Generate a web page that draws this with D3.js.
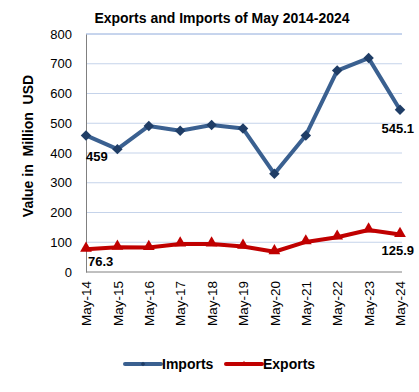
<!DOCTYPE html>
<html><head><meta charset="utf-8">
<script src="https://cdn.jsdelivr.net/npm/d3@7"></script>
<style>body{margin:0;background:#fff;font-family:"Liberation Sans",Arial,sans-serif;}</style>
</head><body>
<script>
const categories = ["May-14","May-15","May-16","May-17","May-18","May-19","May-20","May-21","May-22","May-23","May-24"];
const imports = [459, 413, 491, 475, 494, 482, 330, 459, 677, 719, 545.1];
const exportsV = [76.3, 83, 82, 94, 94, 86, 68, 101, 117, 141, 125.9];
const yTicks = [0,100,200,300,400,500,600,700,800];

(function(){
const W=419,H=392;
const svg=d3.select("body").append("svg").attr("width",W).attr("height",H);
const mLeft=86,mRight=402,mTop=34,mBottom=272;
const x=d3.scalePoint().domain(categories).range([mLeft,400]);
const y=d3.scaleLinear().domain([0,800]).range([mBottom,mTop]);

// gridlines
svg.append("g").selectAll("line").data(yTicks.filter(d=>d>0)).join("line")
  .attr("x1",mLeft).attr("x2",mRight).attr("y1",d=>y(d)).attr("y2",d=>y(d))
  .attr("stroke",d=>d===800?"#8eaadb":"#c5d3ea").attr("stroke-width",1);

// y axis
const ya=svg.append("g").attr("transform",`translate(${mLeft},0)`)
  .call(d3.axisLeft(y).tickValues(yTicks).tickSize(0).tickPadding(14));
ya.select(".domain").attr("stroke","#808080");
ya.selectAll("text").attr("font-size",13).attr("font-family","Liberation Sans, Arial").attr("fill","#000");

// x axis
const xa=svg.append("g").attr("transform",`translate(0,${mBottom})`)
  .call(d3.axisBottom(x).tickSize(0).tickPadding(0));
xa.select(".domain").attr("d",`M${mLeft},0H${mRight}`).attr("stroke","#808080");
xa.selectAll("text").attr("font-size",13.5).attr("font-family","Liberation Sans, Arial").attr("fill","#000")
  .attr("transform","rotate(-90)").attr("text-anchor","end").attr("dy","0.35em").attr("x",-9).attr("y",0);

// lines
const line=d3.line().x((d,i)=>x(categories[i])).y(d=>y(d));
svg.append("path").datum(imports).attr("d",line).attr("fill","none").attr("stroke","#3a6090").attr("stroke-width",4).attr("stroke-linejoin","round");
svg.append("path").datum(exportsV).attr("d",line).attr("fill","none").attr("stroke","#c00000").attr("stroke-width",4).attr("stroke-linejoin","round");

svg.append("g").selectAll("path").data(imports).join("path")
  .attr("d",d3.symbol(d3.symbolDiamond2,70))
  .attr("transform",(d,i)=>`translate(${x(categories[i])},${y(d)})`).attr("fill","#1f3d66");
svg.append("g").selectAll("path").data(exportsV).join("path")
  .attr("d",d3.symbol(d3.symbolTriangle,60))
  .attr("transform",(d,i)=>`translate(${x(categories[i])},${y(d)-1})`).attr("fill","#c00000");

// data labels
const lbl=(t,xx,yy,anchor)=>svg.append("text").attr("x",xx).attr("y",yy).attr("text-anchor",anchor||"start")
  .attr("font-size",13).attr("font-weight","bold").attr("font-family","Liberation Sans, Arial").text(t);
lbl("459",x(categories[0]),y(imports[0])+26);
lbl("545.1",x(categories[10])+14,y(imports[10])+23,"end");
lbl("76.3",x(categories[0])+2,y(exportsV[0])+17);
lbl("125.9",x(categories[10])+14,y(exportsV[10])+20,"end");

// title
svg.append("text").attr("x",222).attr("y",23).attr("text-anchor","middle").attr("font-size",14).attr("font-weight","bold")
  .attr("font-family","Liberation Sans, Arial").text("Exports and Imports of May 2014-2024");

// y title
svg.append("text").attr("transform","translate(33,146) rotate(-90)").attr("text-anchor","middle")
  .attr("font-size",14).attr("font-weight","bold").attr("font-family","Liberation Sans, Arial")
  .attr("xml:space","preserve").style("white-space","pre").text("Value in  Million  USD");

// legend
const leg=[{n:"Imports",c:"#3a6090",m:"#1f3d66",s:d3.symbolDiamond2,x:125},{n:"Exports",c:"#c00000",m:"#c00000",s:d3.symbolTriangle,x:226}];
leg.forEach(l=>{
  svg.append("line").attr("x1",l.x).attr("x2",l.x+36).attr("y1",364).attr("y2",364).attr("stroke",l.c).attr("stroke-width",4).attr("stroke-linecap","round");
  svg.append("path").attr("d",d3.symbol(l.s,14)).attr("transform",`translate(${l.x+18},364)`).attr("fill",l.m);
  svg.append("text").attr("x",l.x+37).attr("y",369).attr("font-size",14).attr("font-weight","bold")
    .attr("font-family","Liberation Sans, Arial").text(l.n);
});
})();
</script>
</body></html>
